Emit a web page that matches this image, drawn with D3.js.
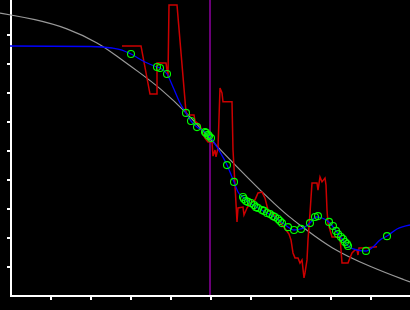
<!DOCTYPE html>
<html>
<head>
<meta charset="utf-8">
<script src="https://cdn.jsdelivr.net/npm/d3@7"></script>
<style>
  body { margin: 0; background: #000; }
  svg { display: block; background: #000; }
</style>
</head>
<body>
<div class="chart"></div>
<script>
// smooth reference curve (gray)
const curveX = [-0.25, 0, 0.575, 1.425, 2.25, 2.625, 3.25, 3.75, 4.425, 5, 5.75, 6.5, 7, 7.325, 8, 9, 10];
const curveY = [9.72, 9.66, 9.52, 9.22, 8.66, 8.28, 7.66, 7.14, 6.28, 5.38, 4.31, 3.28, 2.66, 2.34, 1.62, 0.97, 0.45];

// fitted line (blue)
const fitX = [0, 2.025, 2.55, 2.8, 3.025, 3.375, 3.675, 3.75, 3.925, 4.075, 4.25, 4.4, 4.525, 4.675, 4.875, 4.95, 5.025, 5.175, 5.425, 5.6, 5.7, 5.825, 6, 6.2, 6.375, 6.575, 6.75, 6.95, 7.1, 7.275, 7.5, 7.65, 7.8, 7.975, 8.15, 8.3, 8.45, 8.675, 8.9, 9.075, 9.25, 9.425, 9.675, 10];
const fitY = [8.586, 8.569, 8.517, 8.448, 8.31, 8.034, 7.862, 7.828, 7.621, 7.172, 6.621, 6.276, 6.0, 5.793, 5.621, 5.517, 5.414, 5.103, 4.483, 3.897, 3.552, 3.379, 3.172, 3.0, 2.862, 2.724, 2.552, 2.345, 2.241, 2.276, 2.483, 2.69, 2.655, 2.517, 2.207, 1.931, 1.69, 1.552, 1.517, 1.655, 1.897, 2.034, 2.276, 2.414];

// raw signal (red)
const rawX = [2.8, 3.275, 3.5, 3.675, 3.675, 3.9, 3.95, 3.975, 4.175, 4.4, 4.425, 4.6, 4.625, 4.75, 4.8, 4.875, 4.95, 5.05, 5.075, 5.125, 5.15, 5.2, 5.25, 5.3, 5.325, 5.55, 5.575, 5.625, 5.675, 5.7, 5.825, 5.85, 5.925, 6.0, 6.125, 6.2, 6.3, 6.375, 6.45, 6.55, 6.675, 6.8, 6.9, 6.975, 7.025, 7.075, 7.125, 7.2, 7.25, 7.3, 7.35, 7.375, 7.425, 7.45, 7.5, 7.55, 7.675, 7.7, 7.75, 7.8, 7.875, 7.9, 7.925, 7.95, 8.05, 8.25, 8.275, 8.3, 8.45, 8.5, 8.55, 8.625, 8.675, 8.7, 8.725, 8.875, 9.175];
const rawY = [8.59, 8.59, 6.93, 6.93, 8.0, 8.0, 7.52, 10.0, 10.0, 6.31, 6.21, 6.21, 6.0, 5.86, 5.62, 5.41, 5.28, 5.28, 4.79, 5.0, 4.76, 5.07, 7.14, 6.97, 6.66, 6.66, 5.0, 3.79, 2.52, 3.0, 3.03, 2.76, 3.0, 3.17, 3.28, 3.52, 3.55, 3.34, 2.93, 2.83, 2.66, 2.41, 2.24, 2.1, 1.9, 1.45, 1.28, 1.28, 1.1, 1.21, 0.59, 0.76, 1.21, 1.9, 2.83, 3.86, 3.86, 3.62, 4.07, 3.9, 4.03, 3.79, 2.93, 2.48, 2.0, 2.0, 1.55, 1.1, 1.1, 1.28, 1.45, 1.55, 1.55, 1.38, 1.62, 1.62, 1.66];

// sample points (green circles)
const ptX = [3.025, 3.675, 3.75, 3.925, 4.4, 4.525, 4.675, 4.875, 4.9, 4.95, 4.975, 5.025, 5.425, 5.6, 5.825, 5.85, 5.9, 5.95, 6.025, 6.1, 6.15, 6.2, 6.3, 6.35, 6.425, 6.5, 6.575, 6.625, 6.7, 6.75, 6.8, 6.95, 7.1, 7.275, 7.5, 7.625, 7.7, 7.975, 8.075, 8.15, 8.2, 8.275, 8.325, 8.375, 8.425, 8.45, 8.9, 9.425];
const ptY = [8.31, 7.86, 7.83, 7.62, 6.28, 6.0, 5.79, 5.62, 5.59, 5.52, 5.48, 5.41, 4.48, 3.9, 3.38, 3.31, 3.24, 3.21, 3.17, 3.1, 3.03, 3.0, 2.93, 2.9, 2.83, 2.79, 2.72, 2.69, 2.62, 2.55, 2.48, 2.34, 2.24, 2.28, 2.48, 2.69, 2.72, 2.52, 2.38, 2.21, 2.1, 2.0, 1.93, 1.83, 1.76, 1.69, 1.52, 2.03];

const markerX = 5;
const tickValues = [1, 2, 3, 4, 5, 6, 7, 8, 9];

const width = 410, height = 310;

const svg = d3.select(".chart")
  .append("svg")
  .attr("width", width)
  .attr("height", height);

const x = d3.scaleLinear().domain([0, 10]).range([10, 410]);
const y = d3.scaleLinear().domain([0, 10]).range([295, 5]);

const zip = (xs, ys) => xs.map((v, i) => [v, ys[i]]);

// axes (ticks only, domain lines drawn by hand so they reach the top)
svg.append("g")
  .attr("transform", `translate(${x(0)},0)`)
  .call(d3.axisLeft(y).tickValues(tickValues).tickSize(3).tickSizeOuter(0).tickFormat(""))
  .call(g => g.select(".domain").remove())
  .call(g => g.selectAll("line").attr("stroke", "#fff").attr("stroke-width", 2).attr("shape-rendering", "crispEdges"));

svg.append("g")
  .attr("transform", `translate(0,${y(0) + 1})`)
  .call(d3.axisBottom(x).tickValues(tickValues).tickSize(4).tickSizeOuter(0).tickFormat(""))
  .call(g => g.select(".domain").remove())
  .call(g => g.selectAll("line").attr("stroke", "#fff").attr("stroke-width", 2).attr("shape-rendering", "crispEdges"));

svg.append("line")
  .attr("x1", x(0) + 1).attr("x2", x(0) + 1)
  .attr("y1", 0).attr("y2", y(0) + 2)
  .attr("stroke", "#fff").attr("stroke-width", 2)
  .attr("shape-rendering", "crispEdges");

svg.append("line")
  .attr("x1", x(0)).attr("x2", x(10))
  .attr("y1", y(0) + 1).attr("y2", y(0) + 1)
  .attr("stroke", "#fff").attr("stroke-width", 2)
  .attr("shape-rendering", "crispEdges");

// gray reference curve
svg.append("path")
  .datum(zip(curveX, curveY))
  .attr("d", d3.line().x(d => x(d[0])).y(d => y(d[1])).curve(d3.curveBasis))
  .attr("fill", "none")
  .attr("stroke", "#999")
  .attr("stroke-width", 1.2);

// vertical marker
svg.append("line")
  .attr("x1", x(markerX)).attr("x2", x(markerX))
  .attr("y1", 0).attr("y2", y(0))
  .attr("stroke", "#8e00a0")
  .attr("stroke-width", 1.5);

// red raw signal
svg.append("path")
  .datum(zip(rawX, rawY))
  .attr("d", d3.line().x(d => x(d[0])).y(d => y(d[1])))
  .attr("fill", "none")
  .attr("stroke", "#cc0000")
  .attr("stroke-width", 1.5);

// blue fit
svg.append("path")
  .datum(zip(fitX, fitY))
  .attr("d", d3.line().x(d => x(d[0])).y(d => y(d[1])).curve(d3.curveMonotoneX))
  .attr("fill", "none")
  .attr("stroke", "#0000ff")
  .attr("stroke-width", 1.3);

// green sample points
svg.selectAll(".pt")
  .data(zip(ptX, ptY))
  .enter()
  .append("circle")
  .attr("class", "pt")
  .attr("cx", d => x(d[0]))
  .attr("cy", d => y(d[1]))
  .attr("r", 3.5)
  .attr("fill", "none")
  .attr("stroke", "#00ff00")
  .attr("stroke-width", 1.1);
</script>
</body>
</html>
